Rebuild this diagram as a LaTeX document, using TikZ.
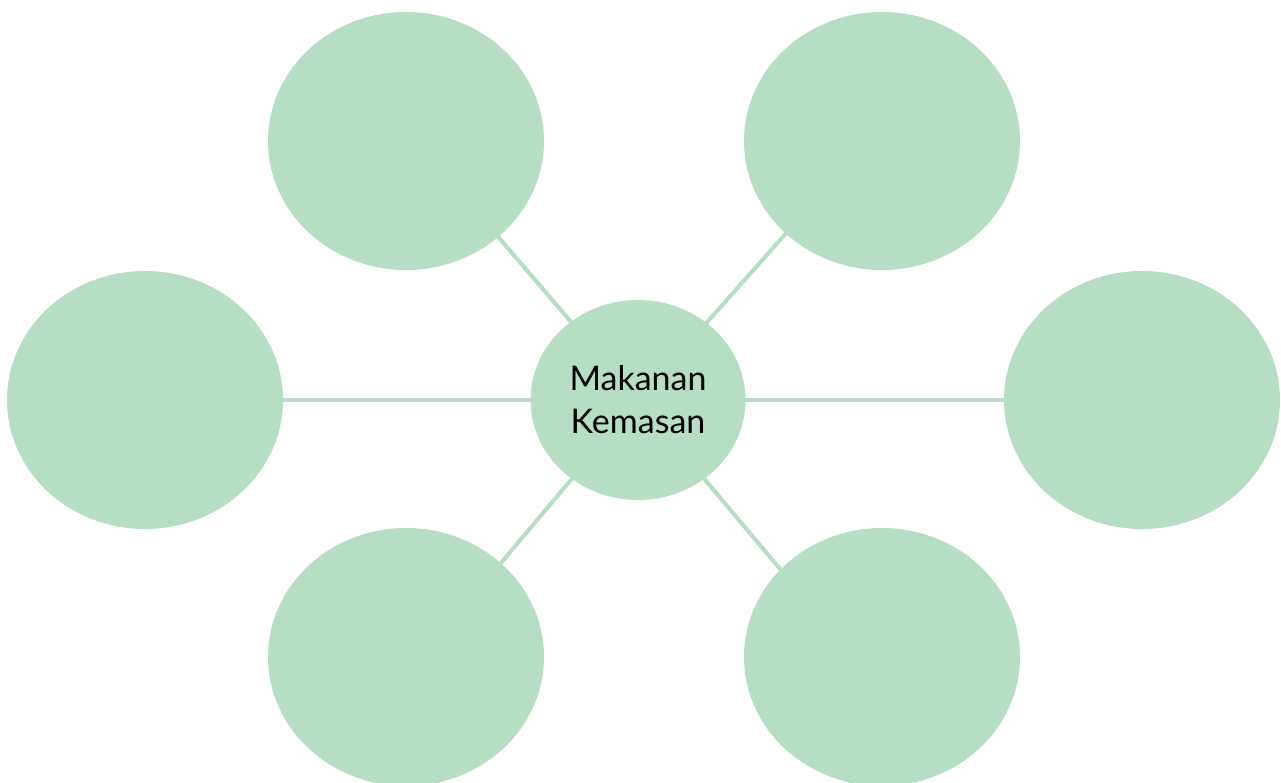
\documentclass[tikz,border=0pt]{standalone}
\usepackage{fontspec}
\setmainfont{Lato}
\usetikzlibrary{shapes.geometric,backgrounds,calc}
\definecolor{mint}{HTML}{B5DEC4}
\begin{document}
\begin{tikzpicture}[x=1pt,y=-1pt,
  bubble/.style={ellipse, fill=mint, minimum width=276pt, minimum height=258pt, inner sep=0pt},
  link/.style={draw=mint, line width=4pt}]
\useasboundingbox (0,0) rectangle (1281,783);
\node[bubble] (tl) at (406,141) {};
\node[bubble] (tr) at (882,141) {};
\node[bubble] (l) at (145,400) {};
\node[bubble] (r) at (1142,400) {};
\node[bubble] (bl) at (406,657) {};
\node[bubble] (br) at (882,657) {};
\node[ellipse, fill=mint, minimum width=215pt, minimum height=200pt, inner sep=0pt,
  align=center, font=\fontsize{34}{43}\selectfont] (m) at (638,400) {Makanan\\Kemasan};
\begin{scope}[on background layer]
\draw[link] ($(tl.center)+(10,0)$) -- (m.center);
\draw[link] ($(tr.center)+(-14,0)$) -- (m.center);
\draw[link] ($(bl.center)+(16,0)$) -- (m.center);
\draw[link] ($(br.center)+(-28,0)$) -- (m.center);
\draw[link] (l.center) -- (m.center);
\draw[link] (r.center) -- (m.center);
\end{scope}
\end{tikzpicture}
\end{document}
